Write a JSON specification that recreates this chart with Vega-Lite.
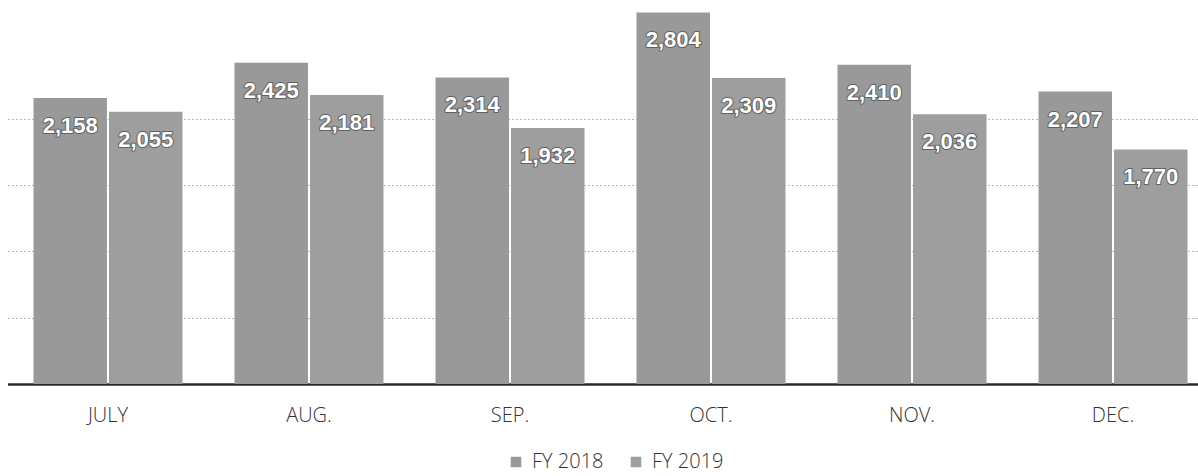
{
  "$schema": "https://vega.github.io/schema/vega-lite/v6.json",
  "autosize": "none",
  "width": 1198,
  "height": 384,
  "padding": {"left": 0, "top": 0, "right": 0, "bottom": 92},
  "background": "white",
  "config": {"view": {"stroke": null}, "font": "Open Sans"},
  "data": {"values": [
    {"month": "JULY", "series": "FY 2018", "value": 2158},
    {"month": "JULY", "series": "FY 2019", "value": 2055},
    {"month": "AUG.", "series": "FY 2018", "value": 2425},
    {"month": "AUG.", "series": "FY 2019", "value": 2181},
    {"month": "SEP.", "series": "FY 2018", "value": 2314},
    {"month": "SEP.", "series": "FY 2019", "value": 1932},
    {"month": "OCT.", "series": "FY 2018", "value": 2804},
    {"month": "OCT.", "series": "FY 2019", "value": 2309},
    {"month": "NOV.", "series": "FY 2018", "value": 2410},
    {"month": "NOV.", "series": "FY 2019", "value": 2036},
    {"month": "DEC.", "series": "FY 2018", "value": 2207},
    {"month": "DEC.", "series": "FY 2019", "value": 1770}
  ]},
  "encoding": {
    "x": {"field": "month", "type": "nominal", "sort": null,
      "scale": {"range": [7.5, 1213.5], "paddingInner": 0.2587, "paddingOuter": 0.1293},
      "axis": {"title": null, "labelAngle": 0, "ticks": false, "tickSize": 0, "labelPadding": 21,
        "labelFontSize": 20, "labelColor": "#333333", "labelFont": "Open Sans", "labelFontWeight": 300,
        "domainColor": "#2a2a2a", "domainWidth": 2.5, "grid": false}},
    "xOffset": {"field": "series", "type": "nominal", "scale": {"paddingInner": 0.027, "paddingOuter": 0}},
    "y": {"field": "value", "type": "quantitative",
      "scale": {"domain": [0, 2898], "nice": false},
      "axis": {"title": null, "labels": false, "ticks": false, "domain": false,
        "values": [500, 1000, 1500, 2000],
        "gridColor": "#b8b8b8", "gridWidth": 1, "gridDash": [2, 2]}}
  },
  "layer": [
    {
      "mark": {"type": "bar"},
      "encoding": {
        "color": {"field": "series", "type": "nominal",
          "scale": {"domain": ["FY 2018", "FY 2019"], "range": ["#999999", "#9e9e9e"]},
          "legend": {"title": null, "orient": "none", "legendX": 506, "legendY": 452, "direction": "horizontal",
            "symbolType": "square", "symbolSize": 110, "labelFontSize": 20, "labelColor": "#333333",
            "labelFont": "Open Sans", "labelFontWeight": 300, "columnPadding": 22, "labelOffset": 6}}
      }
    },
    {
      "mark": {"type": "text", "baseline": "middle", "align": "center", "dy": 28,
        "fontSize": 22, "fontWeight": "bold", "font": "Liberation Sans",
        "fill": "#606060", "stroke": "#606060", "strokeWidth": 2, "strokeJoin": "round"},
      "encoding": {"text": {"field": "value", "type": "quantitative", "format": ",d"}}
    },
    {
      "mark": {"type": "text", "baseline": "middle", "align": "center", "dy": 28,
        "fontSize": 22, "fontWeight": "bold", "font": "Liberation Sans",
        "fill": "#ffffff"},
      "encoding": {"text": {"field": "value", "type": "quantitative", "format": ",d"}}
    }
  ]
}
